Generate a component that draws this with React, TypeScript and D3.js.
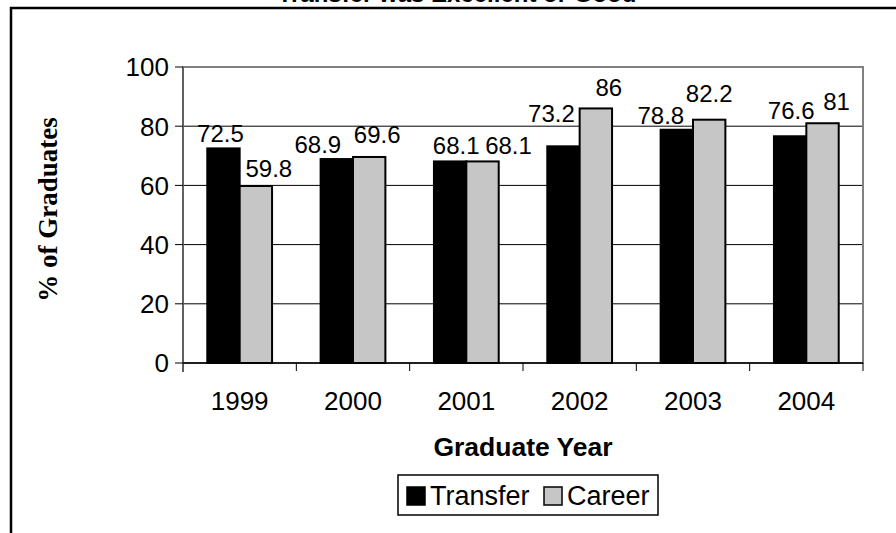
import React from "react";
import * as d3 from "d3";

const years = ["1999", "2000", "2001", "2002", "2003", "2004"];
const transfer = [72.5, 68.9, 68.1, 73.2, 78.8, 76.6];
const career = [59.8, 69.6, 68.1, 86, 82.2, 81];
const yTicks = [0, 20, 40, 60, 80, 100];
const seriesNames = ["Transfer", "Career"];
const seriesColors = ["#000000", "#c6c6c6"];
const title = "Transfer was Excellent or Good";
const xTitle = "Graduate Year";
const yTitle = "% of Graduates";

// manual label nudges (px) relative to a centered label above the bar
const transferLabelDx = [-3, -19, 6, -12, -16, 1];
const transferLabelDy = [-6, -6, -7, -24, -6, -17];
const careerLabelDx = [13, 8, 26, 13, 0, 14];
const careerLabelDy = [-9, -14, -7, -12, -18, -13];

export default function App() {
  const W = 896;
  const H = 533;
  const left = 183, right = 863, top = 67, bottom = 363;
  const x = d3.scaleBand().domain(years).range([left, right]).padding(0);
  const y = d3.scaleLinear().domain([0, 100]).range([bottom, top]);
  const bw = x.bandwidth() / 3.5;
  const font = "Arial, 'Liberation Sans', sans-serif";
  const series = [transfer, career];
  const dxs = [transferLabelDx, careerLabelDx];
  const dys = [transferLabelDy, careerLabelDy];

  return (
    <svg width={W} height={H} style={{ position: "absolute", left: 0, top: 0, background: "#fff" }}>
      <rect x={0} y={0} width={W} height={H} fill="#fff" />
      <rect x={11} y={8} width={W + 20} height={H + 20} fill="none" stroke="#000" strokeWidth={2.5} />
      <text x={457} y={2} textAnchor="middle" fontFamily={font} fontWeight="bold" fontSize={24}>{title}</text>

      {/* gridlines */}
      {yTicks.filter(t => t > 0 && t < 100).map(t => (
        <line key={t} x1={left} x2={right} y1={y(t)} y2={y(t)} stroke="#000" strokeWidth={1} />
      ))}
      {/* plot border */}
      <rect x={left} y={top} width={right - left} height={bottom - top} fill="none" stroke="#808080" strokeWidth={2} />

      {/* bars */}
      {series.map((vals, si) =>
        vals.map((v, i) => {
          const cx = (x(years[i]) as number) + x.bandwidth() / 2;
          const bx = si === 0 ? cx - bw : cx;
          return (
            <rect key={`${si}-${i}`} x={bx} y={y(v)} width={bw} height={y(0) - y(v)}
              fill={seriesColors[si]} stroke="#000" strokeWidth={2} />
          );
        })
      )}

      {/* axes */}
      <line x1={left} x2={left} y1={top} y2={bottom + 9} stroke="#606060" strokeWidth={2} />
      <line x1={left} x2={right} y1={bottom} y2={bottom} stroke="#000" strokeWidth={1.5} />
      {yTicks.map(t => (
        <g key={t}>
          <line x1={left - 8} x2={left} y1={y(t)} y2={y(t)} stroke="#000" strokeWidth={1} />
          <text x={left - 14} y={y(t)} dy="0.36em" textAnchor="end" fontFamily={font} fontSize={26}>{t}</text>
        </g>
      ))}
      {years.map((yr) => (
        <g key={yr}>
          <line x1={(x(yr) as number) + x.bandwidth()} x2={(x(yr) as number) + x.bandwidth()} y1={bottom} y2={bottom + 8} stroke="#000" strokeWidth={1} />
          <text x={(x(yr) as number) + x.bandwidth() / 2} y={410} textAnchor="middle" fontFamily={font} fontSize={26}>{yr}</text>
        </g>
      ))}

      {/* value labels */}
      {series.map((vals, si) =>
        vals.map((v, i) => {
          const cx = (x(years[i]) as number) + x.bandwidth() / 2;
          const lx = (si === 0 ? cx - bw / 2 : cx + bw / 2) + dxs[si][i];
          return (
            <text key={`l${si}-${i}`} x={lx} y={y(v) + dys[si][i]} textAnchor="middle" fontFamily={font} fontSize={24}>{v}</text>
          );
        })
      )}

      <text x={(left + right) / 2} y={456} textAnchor="middle" fontFamily={font} fontWeight="bold" fontSize={26.5}>{xTitle}</text>
      <text transform={`translate(57, 209.5) rotate(-90)`} textAnchor="middle" fontFamily="'Times New Roman', 'Liberation Serif', serif" fontWeight="bold" fontSize={27}>{yTitle}</text>

      {/* legend */}
      <rect x={398} y={475} width={260} height={40} fill="#fff" stroke="#000" strokeWidth={1.5} />
      {seriesNames.map((n, i) => {
        const lx = i === 0 ? 407 : 544;
        return (
          <g key={n}>
            <rect x={lx} y={487} width={18} height={18} fill={seriesColors[i]} stroke="#000" strokeWidth={1.5} />
            <text x={lx + 23} y={505} fontFamily={font} fontSize={27}>{n}</text>
          </g>
        );
      })}
    </svg>
  );
}
